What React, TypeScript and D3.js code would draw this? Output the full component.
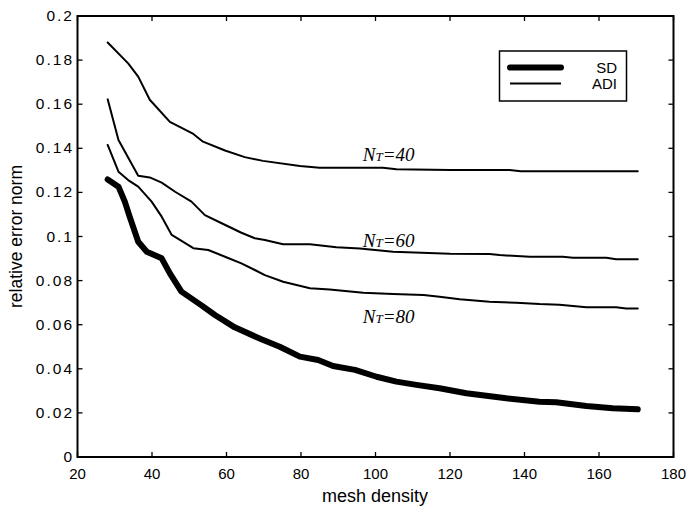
import React from "react";
import * as d3 from "d3";

const xTicks = [20, 40, 60, 80, 100, 120, 140, 160, 180];
const yTicks = [0, 0.02, 0.04, 0.06, 0.08, 0.1, 0.12, 0.14, 0.16, 0.18, 0.2];
const yTickLabels = ["0", "0.02", "0.04", "0.06", "0.08", "0.1", "0.12", "0.14", "0.16", "0.18", "0.2"];

const nt40X = [28.1, 33.6, 36.3, 39.4, 44.8, 51.1, 53.7, 59.6, 64.9, 69.8, 79.7, 85, 102, 105.6, 120, 136, 139, 170.4];
const nt40Y = [0.188, 0.1785, 0.1725, 0.162, 0.152, 0.1465, 0.143, 0.139, 0.136, 0.1343, 0.132, 0.1312, 0.1312, 0.1305, 0.1302, 0.1302, 0.1296, 0.1296];

const nt60X = [28.1, 31, 36.3, 39.4, 42.6, 46.2, 50.6, 54.2, 58.7, 64, 67.6, 70.3, 75.2, 82.4, 89.5, 95.8, 104.7, 120, 130.6, 133.3, 141.4, 150.3, 153, 162, 164.6, 170.4];
const nt60Y = [0.1622, 0.1438, 0.1276, 0.1268, 0.1244, 0.1203, 0.1158, 0.1097, 0.106, 0.1017, 0.0992, 0.0984, 0.0965, 0.0965, 0.0951, 0.0946, 0.0931, 0.0922, 0.0921, 0.0916, 0.0908, 0.0908, 0.0904, 0.0904, 0.0897, 0.0897];

const nt80X = [28.1, 31, 33.6, 36.3, 39.9, 42.6, 45.3, 51.1, 55.1, 59.6, 64, 67.6, 70.3, 75.2, 82.4, 87.7, 96.7, 104.7, 112.9, 117.2, 122.6, 130.6, 137.8, 144, 149.4, 156.6, 164.6, 167.3, 170.4];
const nt80Y = [0.1415, 0.1294, 0.1256, 0.1226, 0.1158, 0.109, 0.1007, 0.0947, 0.0939, 0.0908, 0.0878, 0.0848, 0.0825, 0.0795, 0.0765, 0.076, 0.0745, 0.0739, 0.0735, 0.0727, 0.0715, 0.0704, 0.07, 0.0694, 0.0691, 0.0679, 0.0679, 0.0673, 0.0673];

const sdX = [28.1, 31, 32.7, 34, 36.3, 38.6, 42.6, 44.8, 47.9, 53.1, 56.9, 62.2, 69.2, 74.3, 79.7, 84.6, 88.6, 94.5, 100.3, 105.6, 111, 117.2, 124.4, 135.1, 144, 148.5, 156.6, 163.7, 170.4];
const sdY = [0.1259, 0.1226, 0.1158, 0.109, 0.0976, 0.0931, 0.0901, 0.0833, 0.075, 0.069, 0.0644, 0.0588, 0.0535, 0.05, 0.0455, 0.044, 0.0413, 0.0395, 0.0364, 0.0342, 0.0327, 0.0312, 0.0289, 0.0266, 0.0251, 0.0248, 0.0231, 0.0221, 0.0216];

const labels = [
  { sub: "40", x: 96.6, y: 0.1344 },
  { sub: "60", x: 96.6, y: 0.0954 },
  { sub: "80", x: 96.6, y: 0.0606 },
];

const W = 692;
const H = 513;
const L = 77.5;
const R = 673.5;
const T = 16;
const B = 457;
const SANS = "Helvetica, Arial, 'Liberation Sans', sans-serif";
const SERIF = "'Times New Roman', 'Liberation Serif', serif";

export default function App() {
  const x = d3.scaleLinear().domain([20, 180]).range([L, R]);
  const y = d3.scaleLinear().domain([0, 0.2]).range([B, T]);
  const line = d3
    .line<[number, number]>()
    .x((d) => x(d[0]))
    .y((d) => y(d[1]))
    .curve(d3.curveLinear);
  const series = [
    { xs: nt40X, ys: nt40Y, w: 2 },
    { xs: nt60X, ys: nt60Y, w: 2 },
    { xs: nt80X, ys: nt80Y, w: 2 },
    { xs: sdX, ys: sdY, w: 6 },
  ];
  return (
    <svg
      width={W}
      height={H}
      style={{ position: "absolute", left: 0, top: 0, background: "#fff" }}
    >
      <rect x={0} y={0} width={W} height={H} fill="#fff" />
      {series.map((s, i) => (
        <path
          key={i}
          d={line(s.xs.map((v, j) => [v, s.ys[j]] as [number, number])) || ""}
          fill="none"
          stroke="#000"
          strokeWidth={s.w}
          strokeLinejoin="round"
          strokeLinecap="round"
        />
      ))}
      {/* frame */}
      <rect x={L} y={T} width={R - L} height={B - T} fill="none" stroke="#000" strokeWidth={2} />
      {xTicks.map((t) => (
        <g key={"x" + t}>
          <line x1={x(t)} x2={x(t)} y1={B} y2={B - 5} stroke="#000" strokeWidth={1.3} />
          <line x1={x(t)} x2={x(t)} y1={T} y2={T + 5} stroke="#000" strokeWidth={1.3} />
          <text x={x(t)} y={479} textAnchor="middle" fontFamily={SANS} fontSize={15}>
            {t}
          </text>
        </g>
      ))}
      {yTicks.map((t, i) => (
        <g key={"y" + t}>
          <line x1={L} x2={L + 5} y1={y(t)} y2={y(t)} stroke="#000" strokeWidth={1.3} />
          <line x1={R} x2={R - 5} y1={y(t)} y2={y(t)} stroke="#000" strokeWidth={1.3} />
          <text
            x={74}
            y={y(t) + 5}
            textAnchor="end"
            fontFamily={SANS}
            fontSize={15.5}
            letterSpacing={2}
          >
            {yTickLabels[i]}
          </text>
        </g>
      ))}
      <text x={375} y={502} textAnchor="middle" fontFamily={SANS} fontSize={18}>
        mesh density
      </text>
      <text
        transform={`translate(22, ${(T + B) / 2}) rotate(-90)`}
        textAnchor="middle"
        fontFamily={SANS}
        fontSize={17.5}
      >
        relative error norm
      </text>
      {labels.map((l) => (
        <text
          key={l.sub}
          x={x(l.x)}
          y={y(l.y)}
          fontFamily={SERIF}
          fontStyle="italic"
          fontSize={19}
        >
          N<tspan fontSize={13}>T</tspan>={l.sub}
        </text>
      ))}
      {/* legend */}
      <rect x={499.5} y={51} width={127} height={50} fill="#fff" stroke="#000" strokeWidth={1.5} />
      <line x1={510} x2={561} y1={67.5} y2={67.5} stroke="#000" strokeWidth={6} strokeLinecap="round" />
      <line x1={510} x2={561} y1={83.5} y2={83.5} stroke="#000" strokeWidth={2} />
      <text x={617} y={73} textAnchor="end" fontFamily={SANS} fontSize={15}>
        SD
      </text>
      <text x={617} y={89} textAnchor="end" fontFamily={SANS} fontSize={15}>
        ADI
      </text>
    </svg>
  );
}
